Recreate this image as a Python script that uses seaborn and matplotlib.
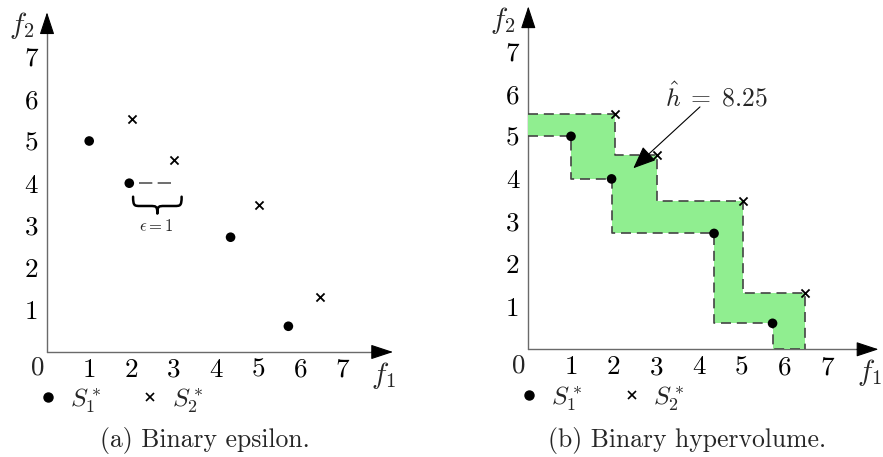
import numpy as np
import pandas as pd
import matplotlib
matplotlib.use("Agg")
import matplotlib.pyplot as plt
import seaborn as sns
from matplotlib.path import Path
from matplotlib.patches import PathPatch
from matplotlib.lines import Line2D

# Two approximation sets of a bi-objective minimisation problem
s1_f1 = [1.0, 1.95, 4.35, 5.72]
s1_f2 = [5.0, 4.0, 2.72, 0.61]
s2_f1 = [2.02, 3.02, 5.03, 6.48]
s2_f2 = [5.52, 4.56, 3.48, 1.31]

tick_values = [1, 2, 3, 4, 5, 6, 7]
tick_labels = ["1", "2", "3", "4", "5", "6", "7"]
set_labels = [r"$S_1^*$", r"$S_2^*$"]
captions = ["(a) Binary epsilon.", "(b) Binary hypervolume."]
eps_value = 1
hv_value = 8.25

sns.set_theme(style="white")
plt.rcParams["font.family"] = ["cmr10", "DejaVu Serif"]
plt.rcParams["mathtext.fontset"] = "cm"
plt.rcParams["axes.formatter.use_mathtext"] = True

W, H = 883, 457
fig = plt.figure(figsize=(W / 100, H / 100), dpi=100)

XMAX, YMAX = 8.2, 8.05
AXIS_GREY = "#6a6a6a"
FS = 18.5
TICK_FS = 19.5


def make_axes(ox, oy, ux, uy):
    """Axes whose data origin sits at pixel (ox, oy) with ux/uy pixels per unit."""
    ax = fig.add_axes([ox / W, (H - oy) / H, XMAX * ux / W, YMAX * uy / H])
    ax.set_xlim(0, XMAX)
    ax.set_ylim(0, YMAX)
    ax.patch.set_alpha(0)
    for s in ax.spines.values():
        s.set_visible(False)
    # axis lines with black arrow heads
    ax.plot([0, XMAX - 0.3], [0, 0], color=AXIS_GREY, lw=1.0, clip_on=False, zorder=1)
    ax.plot([0, 0], [0, YMAX - 0.3], color=AXIS_GREY, lw=1.0, clip_on=False, zorder=1)
    head = dict(arrowstyle="-|>,head_length=1.0,head_width=0.33", color="black",
                lw=0.8, shrinkA=0, shrinkB=0, mutation_scale=14)
    ax.annotate("", xy=(XMAX, 0), xytext=(XMAX - 0.5, 0), arrowprops=head,
                annotation_clip=False)
    ax.annotate("", xy=(0, YMAX), xytext=(0, YMAX - 0.5), arrowprops=head,
                annotation_clip=False)
    ax.set_xticks(tick_values, tick_labels)
    ax.set_yticks(tick_values, tick_labels)
    ax.tick_params(axis="both", direction="inout", length=5, width=0.8,
                   color=AXIS_GREY, labelsize=TICK_FS, labelcolor="black")
    ax.tick_params(axis="x", pad=2)
    ax.tick_params(axis="y", pad=4)
    ax.text(-0.22, -0.38, "0", fontsize=TICK_FS, ha="center", va="center")
    ax.text(-0.6, 7.73, r"$f_2$", fontsize=21, ha="center", va="center")
    ax.text(7.98, -0.55, r"$f_1$", fontsize=21, ha="center", va="center")
    return ax


def draw_sets(ax):
    df1 = pd.DataFrame({"f1": s1_f1, "f2": s1_f2})
    df2 = pd.DataFrame({"f1": s2_f1, "f2": s2_f2})
    sns.scatterplot(data=df1, x="f1", y="f2", ax=ax, marker="o", s=48,
                    color="black", edgecolor="none", zorder=5, clip_on=False)
    sns.scatterplot(data=df2, x="f1", y="f2", ax=ax, marker="x", s=34,
                    color="black", linewidth=1.3, zorder=5, clip_on=False)
    ax.set_xlabel("")
    ax.set_ylabel("")
    handles = [Line2D([], [], marker="o", ls="", color="black", markersize=6.5),
               Line2D([], [], marker="x", ls="", color="black", markersize=5.5,
                      markeredgewidth=1.2)]
    ax.legend(handles, set_labels, ncol=2, loc="center left",
              bbox_to_anchor=(-0.22, -1.15), bbox_transform=ax.transData,
              frameon=False, fontsize=FS, borderpad=0, handlelength=0.8,
              handletextpad=0.45, columnspacing=1.5, borderaxespad=0)


# ---------- (a) binary epsilon ----------
ax1 = make_axes(47, 352, 42.2, 42.2)
draw_sets(ax1)

# additive shift of S1 point that makes it comparable with S2
bx, by = s1_f1[1], s1_f2[1]
ax1.plot([bx + 0.22, bx + eps_value + 0.03], [by, by], color="#555555", lw=1.2,
         dashes=(8, 3.2), zorder=3)

# horizontal curly brace under the shift
x0, x1 = bx + 0.09, bx + eps_value + 0.24
ytop, h = by - 0.32, 0.40
xm = (x0 + x1) / 2
ym = ytop - h * 0.55
q = 0.17
verts = [(x0, ytop), (x0, ym), (x0 + q * 0.2, ym), (x0 + q, ym),
         (xm - q, ym), (xm - q * 0.2, ym), (xm, ym), (xm, ytop - h),
         (xm, ym), (xm + q * 0.2, ym), (xm + q, ym),
         (x1 - q, ym), (x1 - q * 0.2, ym), (x1, ym), (x1, ytop)]
codes = [Path.MOVETO, Path.CURVE4, Path.CURVE4, Path.CURVE4,
         Path.LINETO, Path.CURVE4, Path.CURVE4, Path.CURVE4,
         Path.CURVE4, Path.CURVE4, Path.CURVE4,
         Path.LINETO, Path.CURVE4, Path.CURVE4, Path.CURVE4]
ax1.add_patch(PathPatch(Path(verts, codes), fill=False, lw=1.8, color="black",
                        capstyle="round", joinstyle="round"))
ax1.text(xm - 0.03, ytop - h - 0.3, r"$\epsilon{=}%d$" % eps_value, fontsize=12,
         ha="center", va="center")

# ---------- (b) binary hypervolume ----------
ax2 = make_axes(528.3, 349.3, 42.7, 42.6)
draw_sets(ax2)


def attainment(px, py, grid):
    px, py = np.asarray(px), np.asarray(py)
    return np.array([py[px >= g - 1e-9].max() if np.any(px >= g - 1e-9) else 0.0
                     for g in grid])


grid = np.unique(np.concatenate([[0.0], s1_f1, s2_f1]))
upper = attainment(s2_f1, s2_f2, grid)
lower = attainment(s1_f1, s1_f2, grid)
ax2.fill_between(grid, lower, upper, step="pre", color="#90ee90", lw=0, zorder=2)

dash_kw = dict(color="#444444", lw=1.2, dashes=(6, 3.5), zorder=3)
ax2.step(np.append(grid, grid[-1]), np.append(upper, 0.0), where="pre", **dash_kw)
ax2.step(grid, lower, where="pre", **dash_kw)

ax2.text(4.41, 5.93, r"$\hat{h}\;=\;%.2f$" % hv_value, fontsize=FS,
         ha="center", va="center")
ax2.annotate("", xy=(2.46, 4.25), xytext=(4.02, 5.69),
             arrowprops=dict(arrowstyle="-|>,head_length=1.0,head_width=0.42",
                             color="black", lw=0.8, mutation_scale=14,
                             shrinkA=0, shrinkB=0))

for cx, cap in zip([205, 687], captions):
    fig.text(cx / W, 1 - 440 / H, cap, fontsize=FS, ha="center", va="center")

fig.savefig("out.png", dpi=100)
